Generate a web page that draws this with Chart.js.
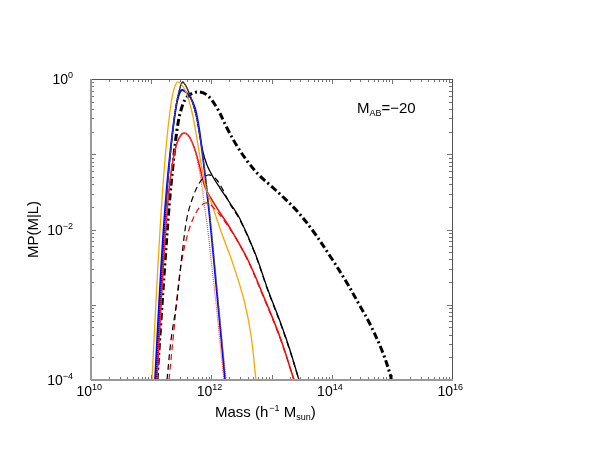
<!DOCTYPE html>
<html>
<head>
<meta charset="utf-8">
<script src="https://cdn.jsdelivr.net/npm/chart.js@4/dist/chart.umd.min.js"></script>
<style>
  html, body { margin: 0; padding: 0; background: #fff; }
  #wrap { width: 592px; height: 458px; }
</style>
</head>
<body>
<div id="wrap"><canvas id="chart" width="592" height="458"></canvas></div>
<script>
// values, stored as log10(M) and log10(M P(M|L))
const orangeLogM = [11.014, 11.080, 11.147, 11.213, 11.280, 11.346, 11.396, 11.446, 11.562, 11.662, 11.745, 11.828, 11.911, 12.028, 12.177, 12.360, 12.543, 12.659, 12.742];
const orangeLogP = [-4.0, -2.963, -2.007, -1.236, -0.651, -0.252, -0.093, -0.040, -0.146, -0.385, -0.718, -1.116, -1.449, -1.714, -2.060, -2.458, -2.937, -3.402, -4.0];

const blueLogM = [11.064, 11.130, 11.197, 11.263, 11.330, 11.396, 11.446, 11.512, 11.645, 11.728, 11.795, 11.861, 11.928, 11.994, 12.077, 12.161, 12.227];
const blueLogP = [-4.0, -3.003, -2.100, -1.409, -0.877, -0.465, -0.252, -0.146, -0.239, -0.385, -0.651, -1.050, -1.502, -2.007, -2.711, -3.415, -4.0];

const blackLogM = [11.080, 11.147, 11.213, 11.280, 11.346, 11.413, 11.479, 11.529, 11.645, 11.745, 11.812, 11.861, 11.928, 12.028, 12.144, 12.310, 12.476, 12.726, 12.942, 13.158, 13.307, 13.457];
const blackLogP = [-4.0, -3.003, -2.073, -1.342, -0.784, -0.359, -0.120, -0.040, -0.213, -0.478, -0.771, -0.970, -1.143, -1.302, -1.449, -1.648, -1.861, -2.312, -2.804, -3.256, -3.601, -4.0];

const blackSatLogM = [11.263, 11.330, 11.429, 11.512, 11.595, 11.695, 11.812, 11.945, 12.061, 12.177, 12.310, 12.476, 12.726, 12.942, 13.158, 13.307, 13.457];
const blackSatLogP = [-4.0, -3.468, -2.937, -2.339, -1.847, -1.568, -1.369, -1.276, -1.316, -1.449, -1.661, -1.874, -2.325, -2.817, -3.269, -3.615, -4.0];

const blackCenLogM = [11.080, 11.147, 11.213, 11.280, 11.346, 11.413, 11.479, 11.529, 11.645, 11.745, 11.812, 11.878, 11.945, 12.011, 12.094, 12.177, 12.244];
const blackCenLogP = [-4.0, -3.003, -2.073, -1.342, -0.784, -0.359, -0.120, -0.040, -0.213, -0.478, -0.771, -1.143, -1.581, -2.073, -2.764, -3.468, -4.0];

const redLogM = [11.097, 11.163, 11.230, 11.296, 11.363, 11.429, 11.496, 11.546, 11.612, 11.679, 11.745, 11.812, 11.895, 12.061, 12.310, 12.593, 12.859, 13.141, 13.374];
const redLogP = [-4.0, -3.003, -2.140, -1.475, -1.076, -0.850, -0.744, -0.718, -0.744, -0.837, -0.983, -1.183, -1.435, -1.674, -1.980, -2.379, -2.870, -3.429, -4.0];

const redSatLogM = [11.296, 11.379, 11.479, 11.612, 11.762, 11.895, 12.011, 12.310, 12.593, 12.859, 13.141, 13.374];
const redSatLogP = [-4.0, -3.336, -2.565, -2.047, -1.754, -1.648, -1.688, -1.993, -2.392, -2.884, -3.442, -4.0];

const redCenLogM = [11.097, 11.163, 11.230, 11.296, 11.363, 11.429, 11.496, 11.546, 11.612, 11.679, 11.745, 11.828, 11.895, 11.945, 12.011, 12.077, 12.144, 12.210];
const redCenLogP = [-4.0, -3.003, -2.140, -1.475, -1.076, -0.850, -0.744, -0.718, -0.744, -0.837, -0.997, -1.342, -1.741, -2.033, -2.512, -2.977, -3.495, -4.0];

const dashDotLogM = [11.097, 11.163, 11.230, 11.296, 11.363, 11.429, 11.496, 11.595, 11.762, 11.928, 12.094, 12.260, 12.426, 12.609, 12.792, 12.975, 13.158, 13.424, 13.690, 13.972, 14.255, 14.471, 14.637, 14.853, 15.002];
const dashDotLogP = [-4.0, -3.203, -2.432, -1.714, -1.143, -0.678, -0.412, -0.239, -0.173, -0.213, -0.385, -0.651, -0.890, -1.103, -1.276, -1.409, -1.542, -1.754, -2.020, -2.352, -2.711, -3.017, -3.256, -3.641, -4.0];

// axis ranges and labelled ticks (exponents)
const xDecades = [10, 11, 12, 13, 14, 15, 16];
const xLabelExps = [10, 12, 14, 16];
const yDecades = [-4, -3, -2, -1, 0];
const yLabelExps = [-4, -2, 0];

const FONT = '"Liberation Sans", Arial, Helvetica, sans-serif';

function pts(lm, lp) {
  return lm.map((m, i) => ({ x: Math.pow(10, m), y: Math.pow(10, lp[i]) }));
}

function series(lm, lp, color, width, dash) {
  return {
    data: pts(lm, lp),
    borderColor: color,
    borderWidth: width,
    borderDash: dash || [],
    pointRadius: 0,
    fill: false,
    showLine: true,
    tension: 0.35
  };
}

function expText(v) {
  return v < 0 ? '\u2212' + Math.abs(v) : String(v);
}

// frame, inward ticks, labels and titles
const decorPlugin = {
  id: 'decor',
  afterDraw(chart) {
    const ctx = chart.ctx;
    const a = chart.chartArea;
    const xs = chart.scales.x, ys = chart.scales.y;
    ctx.save();

    // ticks
    ctx.strokeStyle = '#777';
    ctx.lineWidth = 1;
    ctx.beginPath();
    xDecades.forEach(d => {
      for (let k = 1; k <= 9; k++) {
        if (d === 16 && k > 1) break;
        const px = Math.round(xs.getPixelForValue(k * Math.pow(10, d))) + 0.5;
        const len = k === 1 ? 5 : 3;
        ctx.moveTo(px, a.bottom); ctx.lineTo(px, a.bottom - len);
        ctx.moveTo(px, a.top); ctx.lineTo(px, a.top + len);
      }
    });
    yDecades.forEach(d => {
      for (let k = 1; k <= 9; k++) {
        if (d === 0 && k > 1) break;
        const py = Math.round(ys.getPixelForValue(k * Math.pow(10, d))) + 0.5;
        const len = k === 1 ? 5 : 3;
        ctx.moveTo(a.left, py); ctx.lineTo(a.left + len, py);
        ctx.moveTo(a.right, py); ctx.lineTo(a.right - len, py);
      }
    });
    ctx.stroke();

    // frame
    ctx.strokeStyle = '#555';
    ctx.lineWidth = 1;
    ctx.beginPath();
    ctx.moveTo(a.left, a.top + 0.5); ctx.lineTo(a.right, a.top + 0.5);
    ctx.moveTo(a.right + 0.5, a.top); ctx.lineTo(a.right + 0.5, a.bottom);
    ctx.stroke();
    ctx.strokeStyle = '#999';
    ctx.lineWidth = 2;
    ctx.beginPath();
    ctx.moveTo(a.left, a.bottom); ctx.lineTo(a.right + 1, a.bottom);
    ctx.moveTo(a.left, a.top); ctx.lineTo(a.left, a.bottom);
    ctx.stroke();

    ctx.fillStyle = '#000';
    ctx.textBaseline = 'alphabetic';

    // x tick labels
    xLabelExps.forEach(e => {
      const px = xs.getPixelForValue(Math.pow(10, e));
      ctx.font = '14px ' + FONT;
      ctx.textAlign = 'right';
      ctx.fillText('10', px + 1, a.bottom + 16);
      ctx.font = '9px ' + FONT;
      ctx.textAlign = 'left';
      ctx.fillText(expText(e), px + 1, a.bottom + 10);
    });

    // y tick labels
    yLabelExps.forEach(e => {
      const py = ys.getPixelForValue(Math.pow(10, e));
      ctx.font = '9px ' + FONT;
      const ew = ctx.measureText(expText(e)).width;
      const right = a.left - 18;
      ctx.textAlign = 'right';
      ctx.fillText(expText(e), right, py - 1);
      ctx.font = '14px ' + FONT;
      ctx.fillText('10', right - ew, py + 5);
    });

    // x title: Mass (h^-1 M_sun)
    let x = 215, y = a.bottom + 37;
    ctx.textAlign = 'left';
    ctx.font = '15px ' + FONT;
    ctx.fillText('Mass (h', x, y); x += ctx.measureText('Mass (h').width;
    ctx.font = '9px ' + FONT;
    ctx.fillText('\u22121', x + 1, y - 6); x += ctx.measureText('\u22121').width + 1;
    ctx.font = '15px ' + FONT;
    ctx.fillText(' M', x, y); x += ctx.measureText(' M').width;
    ctx.font = '9px ' + FONT;
    ctx.fillText('sun', x, y + 3); x += ctx.measureText('sun').width;
    ctx.font = '15px ' + FONT;
    ctx.fillText(')', x, y);

    // y title
    ctx.save();
    ctx.translate(38, (a.top + a.bottom) / 2);
    ctx.rotate(-Math.PI / 2);
    ctx.textAlign = 'center';
    ctx.font = '15px ' + FONT;
    ctx.fillText('MP(M|L)', 0, 0);
    ctx.restore();

    // annotation M_AB=-20
    x = 357; y = 113;
    ctx.textAlign = 'left';
    ctx.font = '15px ' + FONT;
    ctx.fillText('M', x, y); x += ctx.measureText('M').width;
    ctx.font = '9px ' + FONT;
    ctx.fillText('AB', x, y + 3); x += ctx.measureText('AB').width;
    ctx.font = '15px ' + FONT;
    ctx.fillText('=\u221220', x, y);

    ctx.restore();
  }
};

const chartCtx = document.getElementById('chart').getContext('2d');
const chart = new Chart(chartCtx, {
  type: 'scatter',
  data: {
    datasets: [
      series(blackSatLogM, blackSatLogP, '#000', 1.2, [6, 4]),
      series(redSatLogM, redSatLogP, '#ff0000', 1.2, [6, 4]),
      series(blackCenLogM, blackCenLogP, '#666', 1.2, [1, 1]),
      series(redCenLogM, redCenLogP, '#ff4040', 1.2, [1, 1]),
      series(orangeLogM, orangeLogP, '#ffa500', 1.3),
      series(blueLogM, blueLogP, '#0000ff', 1.8),
      series(redLogM, redLogP, '#ff0000', 1.5),
      series(blackLogM, blackLogP, '#000', 1.3),
      series(dashDotLogM, dashDotLogP, '#000', 3, [7, 3, 2, 3])
    ]
  },
  options: {
    responsive: false,
    animation: false,
    layout: { padding: { left: 91, top: 79, right: 140, bottom: 78 } },
    plugins: { legend: { display: false }, tooltip: { enabled: false } },
    scales: {
      x: { type: 'logarithmic', min: 1e10, max: 1e16, display: false },
      y: { type: 'logarithmic', min: 1e-4, max: 1, display: false }
    }
  },
  plugins: [decorPlugin]
});
</script>
</body>
</html>
